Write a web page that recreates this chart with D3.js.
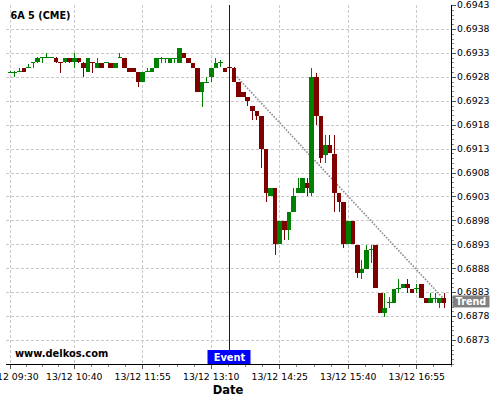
<!DOCTYPE html>
<html>
<head>
<meta charset="utf-8">
<script src="https://cdn.jsdelivr.net/npm/d3@7"></script>
<style>
  body { margin: 0; background: #fff; }
  text { font-family: "DejaVu Sans", sans-serif; }
</style>
</head>
<body>
<script>
// 5 minute bars of 6A, starting 13/12 09:30
var startTime = "13/12 09:30";
var barMinutes = 5;

var opens = [
  0.69291, 0.69291, 0.69290, 0.69298, 0.69299, 0.69308, 0.69310, 0.69320, 0.69321, 0.69321,
  0.69319, 0.69310, 0.69310, 0.69319, 0.69310, 0.69319, 0.69309, 0.69289, 0.69310, 0.69299,
  0.69309, 0.69310, 0.69309, 0.69299, 0.69320, 0.69319, 0.69299, 0.69298, 0.69289, 0.69270,
  0.69292, 0.69289, 0.69299, 0.69319, 0.69319, 0.69309, 0.69319, 0.69309, 0.69330, 0.69319,
  0.69309, 0.69299, 0.69249, 0.69270, 0.69280, 0.69299, 0.69310, 0.69299, 0.69300, 0.69299,
  0.69270, 0.69249, 0.69238, 0.69219, 0.69209, 0.69199, 0.69129, 0.69030, 0.69048, 0.68930,
  0.68979, 0.68959, 0.68998, 0.69038, 0.69038, 0.69058, 0.69038, 0.69280, 0.69199, 0.69117,
  0.69138, 0.69118, 0.69038, 0.69019, 0.68930, 0.68979, 0.68929, 0.68870, 0.68878, 0.68918,
  0.68929, 0.68829, 0.68787, 0.68809, 0.68808, 0.68838, 0.68838, 0.68847, 0.68836, 0.68838,
  0.68847, 0.68818, 0.68808, 0.68818, 0.68808, 0.68818
];
var highs = [
  0.69293, 0.69292, 0.69298, 0.69298, 0.69307, 0.69311, 0.69321, 0.69321, 0.69329, 0.69322,
  0.69321, 0.69311, 0.69319, 0.69319, 0.69329, 0.69319, 0.69310, 0.69319, 0.69310, 0.69319,
  0.69309, 0.69310, 0.69309, 0.69309, 0.69329, 0.69319, 0.69299, 0.69299, 0.69289, 0.69289,
  0.69299, 0.69299, 0.69319, 0.69321, 0.69320, 0.69319, 0.69319, 0.69340, 0.69330, 0.69319,
  0.69309, 0.69299, 0.69270, 0.69279, 0.69299, 0.69319, 0.69315, 0.69299, 0.69300, 0.69300,
  0.69270, 0.69249, 0.69238, 0.69219, 0.69209, 0.69199, 0.69129, 0.69048, 0.69048, 0.68979,
  0.68979, 0.68998, 0.69047, 0.69068, 0.69068, 0.69068, 0.69298, 0.69287, 0.69199, 0.69158,
  0.69158, 0.69158, 0.69038, 0.69019, 0.68979, 0.68979, 0.68929, 0.68897, 0.68929, 0.68929,
  0.68929, 0.68829, 0.68828, 0.68821, 0.68836, 0.68857, 0.68847, 0.68857, 0.68836, 0.68847,
  0.68847, 0.68818, 0.68828, 0.68828, 0.68818, 0.68828
];
var lows = [
  0.69289, 0.69279, 0.69289, 0.69289, 0.69298, 0.69298, 0.69308, 0.69309, 0.69319, 0.69319,
  0.69309, 0.69287, 0.69309, 0.69309, 0.69299, 0.69309, 0.69279, 0.69289, 0.69287, 0.69299,
  0.69298, 0.69308, 0.69299, 0.69299, 0.69319, 0.69299, 0.69289, 0.69289, 0.69258, 0.69270,
  0.69289, 0.69289, 0.69299, 0.69309, 0.69309, 0.69309, 0.69309, 0.69309, 0.69319, 0.69309,
  0.69299, 0.69249, 0.69217, 0.69269, 0.69270, 0.69299, 0.69301, 0.69289, 0.69298, 0.69270,
  0.69238, 0.69238, 0.69219, 0.69190, 0.69190, 0.69089, 0.69018, 0.69030, 0.68908, 0.68930,
  0.68939, 0.68939, 0.68998, 0.69038, 0.69038, 0.69030, 0.69030, 0.69179, 0.69099, 0.69099,
  0.69120, 0.68998, 0.68998, 0.68922, 0.68930, 0.68930, 0.68859, 0.68857, 0.68878, 0.68891,
  0.68838, 0.68787, 0.68778, 0.68796, 0.68808, 0.68828, 0.68838, 0.68828, 0.68829, 0.68828,
  0.68818, 0.68808, 0.68808, 0.68808, 0.68796, 0.68796
];
var closes = [
  0.69291, 0.69291, 0.69292, 0.69289, 0.69301, 0.69311, 0.69319, 0.69321, 0.69321, 0.69321,
  0.69310, 0.69309, 0.69319, 0.69310, 0.69319, 0.69310, 0.69299, 0.69319, 0.69309, 0.69309,
  0.69299, 0.69310, 0.69299, 0.69309, 0.69321, 0.69299, 0.69289, 0.69289, 0.69270, 0.69289,
  0.69292, 0.69299, 0.69319, 0.69319, 0.69319, 0.69319, 0.69319, 0.69340, 0.69319, 0.69309,
  0.69299, 0.69249, 0.69270, 0.69270, 0.69299, 0.69309, 0.69310, 0.69289, 0.69299, 0.69270,
  0.69238, 0.69238, 0.69230, 0.69209, 0.69199, 0.69129, 0.69038, 0.69048, 0.68930, 0.68979,
  0.68959, 0.68998, 0.69030, 0.69048, 0.69068, 0.69048, 0.69280, 0.69199, 0.69110, 0.69138,
  0.69120, 0.69038, 0.69019, 0.68930, 0.68979, 0.68930, 0.68870, 0.68878, 0.68918, 0.68920,
  0.68838, 0.68787, 0.68798, 0.68810, 0.68836, 0.68838, 0.68847, 0.68838, 0.68829, 0.68838,
  0.68818, 0.68808, 0.68818, 0.68818, 0.68818, 0.68808
];

var xTickLabels = ["13/12 09:30", "13/12 10:40", "13/12 11:55", "13/12 13:10",
                   "13/12 14:25", "13/12 15:40", "13/12 16:55"];
var yTickLabels = ["0.6873", "0.6878", "0.6883", "0.6888", "0.6893", "0.6898", "0.6903",
                   "0.6908", "0.6913", "0.6918", "0.6923", "0.6928", "0.6933", "0.6938", "0.6943"];

var eventTime = "13/12 13:30";
var trendTimes = ["13/12 13:38", "13/12 17:24"];
var trendPrices = [0.69280, 0.68817];

var width = 500, height = 400;
var plotLeft = 6, plotRight = 451, plotTop = 5, plotBottom = 364;

function minutesOf(s){
  var hm = s.split(" ")[1].split(":");
  return +hm[0] * 60 + +hm[1];
}
// bar index (can be fractional) of a time label
function idxOf(s){
  return (minutesOf(s) - minutesOf(startTime)) / barMinutes;
}

var bars = opens.map(function(o, i){
  return {i: i, o: o, h: highs[i], l: lows[i], c: closes[i]};
});

var x = d3.scaleLinear().domain([-0.95, 96.5]).range([plotLeft, plotRight]);
var y = d3.scaleLinear().domain([0.6868, 0.6943]).range([plotBottom, plotTop]);

var svg = d3.select("body").append("svg")
  .attr("width", width)
  .attr("height", height);

var xMajor = xTickLabels.map(idxOf);
var step = xMajor[2] - xMajor[1];
var xMinor = [];
xMajor.forEach(function(v, k){
  var last = k === xMajor.length - 1;
  var st = last ? step / 4 : (xMajor[k+1] - v) / 4;
  for (var j = 1; j < (last ? 8 : 4); j++){
    var t = v + j * st;
    if (x(t) > plotRight + 0.5) break;
    xMinor.push(t);
  }
});

var yMajor = yTickLabels.map(Number);
var yMinor = d3.range(0, 76).map(function(k){ return 0.6868 + k * 0.0001; });

// grid
var grid = svg.append("g")
  .attr("stroke", "#c8c8c8")
  .attr("stroke-width", 1)
  .attr("stroke-dasharray", "3,2")
  .attr("shape-rendering", "crispEdges");

grid.selectAll(".gy").data(yMajor.slice(0, -1)).enter().append("line")
  .attr("x1", plotLeft).attr("x2", plotRight)
  .attr("y1", function(d){ return Math.round(y(d)) + 0.5; })
  .attr("y2", function(d){ return Math.round(y(d)) + 0.5; });

grid.selectAll(".gx").data(xMajor).enter().append("line")
  .attr("y1", plotTop).attr("y2", plotBottom)
  .attr("x1", function(d){ return Math.floor(x(d)) + 0.5; })
  .attr("x2", function(d){ return Math.floor(x(d)) + 0.5; });

// trend line
svg.append("line")
  .attr("x1", x(idxOf(trendTimes[0]))).attr("y1", y(trendPrices[0]))
  .attr("x2", x(idxOf(trendTimes[1]))).attr("y2", y(trendPrices[1]))
  .attr("stroke", "#8c8c8c")
  .attr("stroke-width", 1.6)
  .attr("stroke-dasharray", "1.6,1.4");

// candles
var bw = 4.6;
var candles = svg.append("g").attr("shape-rendering", "crispEdges");

candles.selectAll(".wick").data(bars).enter().append("line")
  .attr("x1", function(d){ return Math.floor(x(d.i)) + 0.5; })
  .attr("x2", function(d){ return Math.floor(x(d.i)) + 0.5; })
  .attr("y1", function(d){ return y(d.h); })
  .attr("y2", function(d){ return y(d.l); })
  .attr("stroke", function(d){ return d.c >= d.o ? "#008000" : "#800000"; });

candles.selectAll(".body").data(bars).enter().append("rect")
  .attr("x", function(d){ return x(d.i) - bw / 2; })
  .attr("width", bw)
  .attr("y", function(d){ return y(Math.max(d.o, d.c)); })
  .attr("height", function(d){ return Math.max(1, Math.abs(y(d.o) - y(d.c))); })
  .attr("fill", function(d){ return d.c >= d.o ? "#008000" : "#800000"; });

// event line
var ex = Math.floor(x(idxOf(eventTime))) + 0.5;
svg.append("line")
  .attr("x1", ex).attr("x2", ex)
  .attr("y1", plotTop).attr("y2", plotBottom)
  .attr("stroke", "#0000ff")
  .attr("shape-rendering", "crispEdges");

svg.append("rect")
  .attr("x", ex - 22).attr("y", plotBottom - 14)
  .attr("width", 43).attr("height", 14)
  .attr("fill", "#0000ff");
svg.append("text")
  .attr("x", ex).attr("y", plotBottom - 3.5)
  .attr("text-anchor", "middle")
  .attr("font-size", "9.9px")
  .attr("font-weight", "bold")
  .attr("fill", "white")
  .text("Event");

// axes
var axes = svg.append("g").attr("stroke", "#000").attr("shape-rendering", "crispEdges");
axes.append("line").attr("x1", plotLeft).attr("x2", plotRight + 0.5)
  .attr("y1", plotBottom + 0.5).attr("y2", plotBottom + 0.5);
axes.append("line").attr("x1", plotRight + 0.5).attr("x2", plotRight + 0.5)
  .attr("y1", plotTop).attr("y2", plotBottom + 0.5);

axes.selectAll(".ymin").data(yMinor).enter().append("line")
  .attr("stroke", "#888")
  .attr("x1", plotRight + 1).attr("x2", plotRight + 3)
  .attr("y1", function(d){ return Math.round(y(d)) + 0.5; })
  .attr("y2", function(d){ return Math.round(y(d)) + 0.5; });
axes.selectAll(".ymaj").data(yMajor).enter().append("line")
  .attr("stroke", "#555")
  .attr("x1", plotRight + 1).attr("x2", plotRight + 5)
  .attr("y1", function(d){ return Math.round(y(d)) + 0.5; })
  .attr("y2", function(d){ return Math.round(y(d)) + 0.5; });

axes.selectAll(".xmin").data(xMinor).enter().append("line")
  .attr("stroke", "#888")
  .attr("y1", plotBottom + 1).attr("y2", plotBottom + 3)
  .attr("x1", function(d){ return Math.floor(x(d)) + 0.5; })
  .attr("x2", function(d){ return Math.floor(x(d)) + 0.5; });
axes.selectAll(".xmaj").data(xMajor).enter().append("line")
  .attr("stroke", "#555")
  .attr("y1", plotBottom + 1).attr("y2", plotBottom + 5)
  .attr("x1", function(d){ return Math.floor(x(d)) + 0.5; })
  .attr("x2", function(d){ return Math.floor(x(d)) + 0.5; });

svg.selectAll(".ylab").data(yTickLabels).enter().append("text")
  .attr("x", plotRight + 6)
  .attr("y", function(d){ return y(+d); })
  .attr("dy", "0.35em")
  .attr("font-size", "9.3px")
  .attr("fill", "#000")
  .text(function(d){ return d; });

svg.selectAll(".xlab").data(xTickLabels).enter().append("text")
  .attr("x", function(d){ return x(idxOf(d)); })
  .attr("y", 380)
  .attr("text-anchor", "middle")
  .attr("font-size", "9.3px")
  .attr("fill", "#000")
  .text(function(d){ return d; });

// trend label
var ty = y(trendPrices[1]) + 3;
svg.append("rect")
  .attr("x", plotRight + 1.5).attr("y", ty - 6)
  .attr("width", 37).attr("height", 12)
  .attr("fill", "#808080");
svg.append("text")
  .attr("x", plotRight + 20).attr("y", ty + 3.5)
  .attr("text-anchor", "middle")
  .attr("font-size", "9.6px")
  .attr("font-weight", "bold")
  .attr("fill", "white")
  .text("Trend");

// titles
svg.append("text")
  .attr("x", 10.5).attr("y", 19)
  .attr("font-size", "9.7px")
  .attr("font-weight", "bold")
  .text("6A 5 (CME)");

svg.append("text")
  .attr("x", 15).attr("y", 357)
  .attr("font-size", "9.9px")
  .attr("font-weight", "bold")
  .text("www.delkos.com");

svg.append("text")
  .attr("x", 228).attr("y", 394)
  .attr("text-anchor", "middle")
  .attr("font-size", "11.5px")
  .attr("font-weight", "bold")
  .text("Date");
</script>
</body>
</html>
